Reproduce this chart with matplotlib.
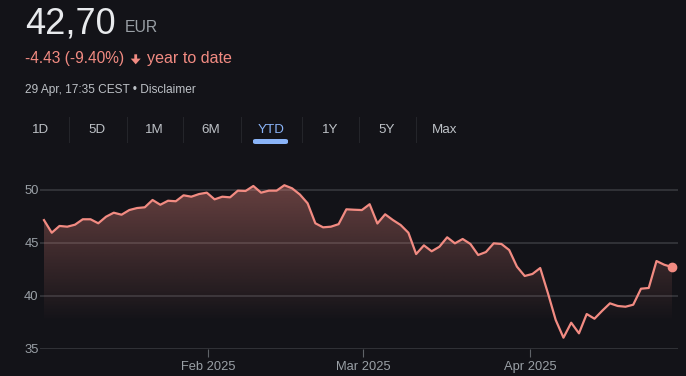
import numpy as np
import matplotlib
matplotlib.use("Agg")
import matplotlib.pyplot as plt
from matplotlib.patches import FancyBboxPatch, Polygon

# ---------------- data ----------------
prices = [47.13, 45.94, 46.58, 46.51, 46.70, 47.21, 47.21, 46.83, 47.45, 47.83,
          47.64, 48.08, 48.27, 48.34, 49.03, 48.58, 48.96, 48.91, 49.47, 49.34,
          49.59, 49.72, 49.09, 49.34, 49.28, 49.91, 49.88, 50.35, 49.72, 49.91,
          49.91, 50.42, 50.13, 49.55, 48.72, 46.83, 46.45, 46.51, 46.75, 48.15,
          48.11, 48.08, 48.63, 46.81, 47.68, 47.14, 46.67, 45.94, 43.93, 44.75,
          44.19, 44.62, 45.51, 44.94, 45.35, 44.88, 43.84, 44.12, 44.94, 44.88,
          44.31, 42.74, 41.86, 42.05, 42.61, 40.23, 37.71, 36.04, 37.45, 36.45,
          38.27, 37.83, 38.58, 39.28, 39.03, 38.96, 39.15, 40.66, 40.73, 43.27,
          42.92, 42.70]
month_labels = ["Feb 2025", "Mar 2025", "Apr 2025"]
month_tick_pos = [21.2, 41.2, 62.7]
y_ticks = [35, 40, 45, 50]
tabs = ["1D", "5D", "1M", "6M", "YTD", "1Y", "5Y", "Max"]
price_text = "42,70"
currency = "EUR"
change_text = "-4.43 (-9.40%)"
period_text = "year to date"
stamp_text = "29 Apr, 17:35 CEST \u2022 Disclaimer"

# ---------------- style ----------------
BG = "#131318"
LINE = "#f28b82"
GRID = "#3a3b40"
AXTXT = "#9aa0a6"
LIGHT = "#bdc1c6"
BLUE = "#8ab4f8"
plt.rcParams['font.family'] = ['Liberation Sans', 'DejaVu Sans']

W, H = 686, 376
fig = plt.figure(figsize=(W / 100, H / 100), dpi=100, facecolor=BG)

def fx(px):
    return px / W

def fy(py):
    return 1 - py / H

# ---------------- header ----------------
fig.text(fx(25.5), fy(33.5), price_text, fontsize=26, color="#e8eaed", va="baseline", ha="left")
fig.text(fx(125), fy(31.7), currency, fontsize=11.3, color=AXTXT, va="baseline", ha="left")
fig.text(fx(24.7), fy(63.5), change_text, fontsize=11.2, color=LINE, va="baseline", ha="left")
# bold down arrow icon
ax_pts = [(134.3, 54.3), (137.1, 54.3), (137.1, 58.6), (140.7, 58.6), (135.7, 64.3), (130.7, 58.6), (134.3, 58.6)]
fig.add_artist(Polygon([(fx(a), fy(b)) for a, b in ax_pts], closed=True,
                       transform=fig.transFigure, color=LINE, lw=0))
fig.text(fx(146.7), fy(63.5), period_text, fontsize=11.6, color=LINE, va="baseline", ha="left")
fig.text(fx(25), fy(92.7), stamp_text, fontsize=8.6, color=LIGHT, va="baseline", ha="left")

tab_centers = [41, 97.3, 154.3, 210.7, 270.7, 330, 386.5, 445]
sep_x = [69.3, 126.7, 183.3, 240.7, 301.7, 359, 416]
for name, cx in zip(tabs, tab_centers):
    fig.text(fx(cx), fy(133.3), name, fontsize=9.6, color=BLUE if name == "YTD" else LIGHT,
             va="baseline", ha="center")
for sx in sep_x:
    fig.add_artist(plt.Line2D([fx(sx), fx(sx)], [fy(117), fy(142)], color="#24252a", lw=0.8))
# underline of the active tab
fig.add_artist(FancyBboxPatch((fx(253), fy(144)), fx(35), 5 / H,
                              boxstyle="round,pad=0,rounding_size=0.004",
                              transform=fig.transFigure, color=BLUE, lw=0))

# ---------------- chart ----------------
left, right = 40, 678
top, bottom = 175, 348.7
ax = fig.add_axes([fx(left), fy(bottom), fx(right - left), (bottom - top) / H])
ax.set_facecolor(BG)

x = np.arange(len(prices))
step = (672 - 44) / (len(prices) - 1)
xmin = -(44 - left) / step
xmax = (len(prices) - 1) + (right - 672) / step
ymin = 35
ymax = 50 + (189.7 - top) / 10.6
ax.set_xlim(xmin, xmax)
ax.set_ylim(ymin, ymax)

for yt in y_ticks:
    ax.axhline(yt, color=GRID, lw=1.1, zorder=1)

# gradient fill under the line
ny = 300
yy = np.linspace(ymin, ymax, ny)
alpha = np.clip(0.36 * (yy - 37.5) / 12.5, 0, 0.42)
rgba = np.zeros((ny, 2, 4))
rgba[..., 0] = 242 / 255
rgba[..., 1] = 139 / 255
rgba[..., 2] = 130 / 255
rgba[..., 3] = alpha[:, None]
poly = ax.fill_between(x, prices, ymin, color="none", lw=0)
img = ax.imshow(rgba, extent=[x[0], x[-1], ymin, ymax], origin="lower",
                aspect="auto", zorder=2, interpolation="bilinear")
img.set_clip_path(poly.get_paths()[0], transform=ax.transData)

ax.plot(x, prices, color=LINE, lw=1.6, zorder=3, solid_joinstyle="round")
ax.plot([x[-1]], [prices[-1]], "o", color=LINE, ms=6, zorder=4)

for s in ax.spines.values():
    s.set_visible(False)
ax.set_yticks(y_ticks)
ax.set_yticklabels([str(v) for v in y_ticks])
ax.tick_params(axis="y", length=0, pad=1, labelsize=9.4, labelcolor=AXTXT)
ax.set_xticks(month_tick_pos)
ax.set_xticklabels(month_labels)
ax.tick_params(axis="x", length=6, width=0.8, color="#5f6368", pad=2.5,
               labelsize=9.3, labelcolor=AXTXT)

fig.savefig("out.png", dpi=100, facecolor=BG)
